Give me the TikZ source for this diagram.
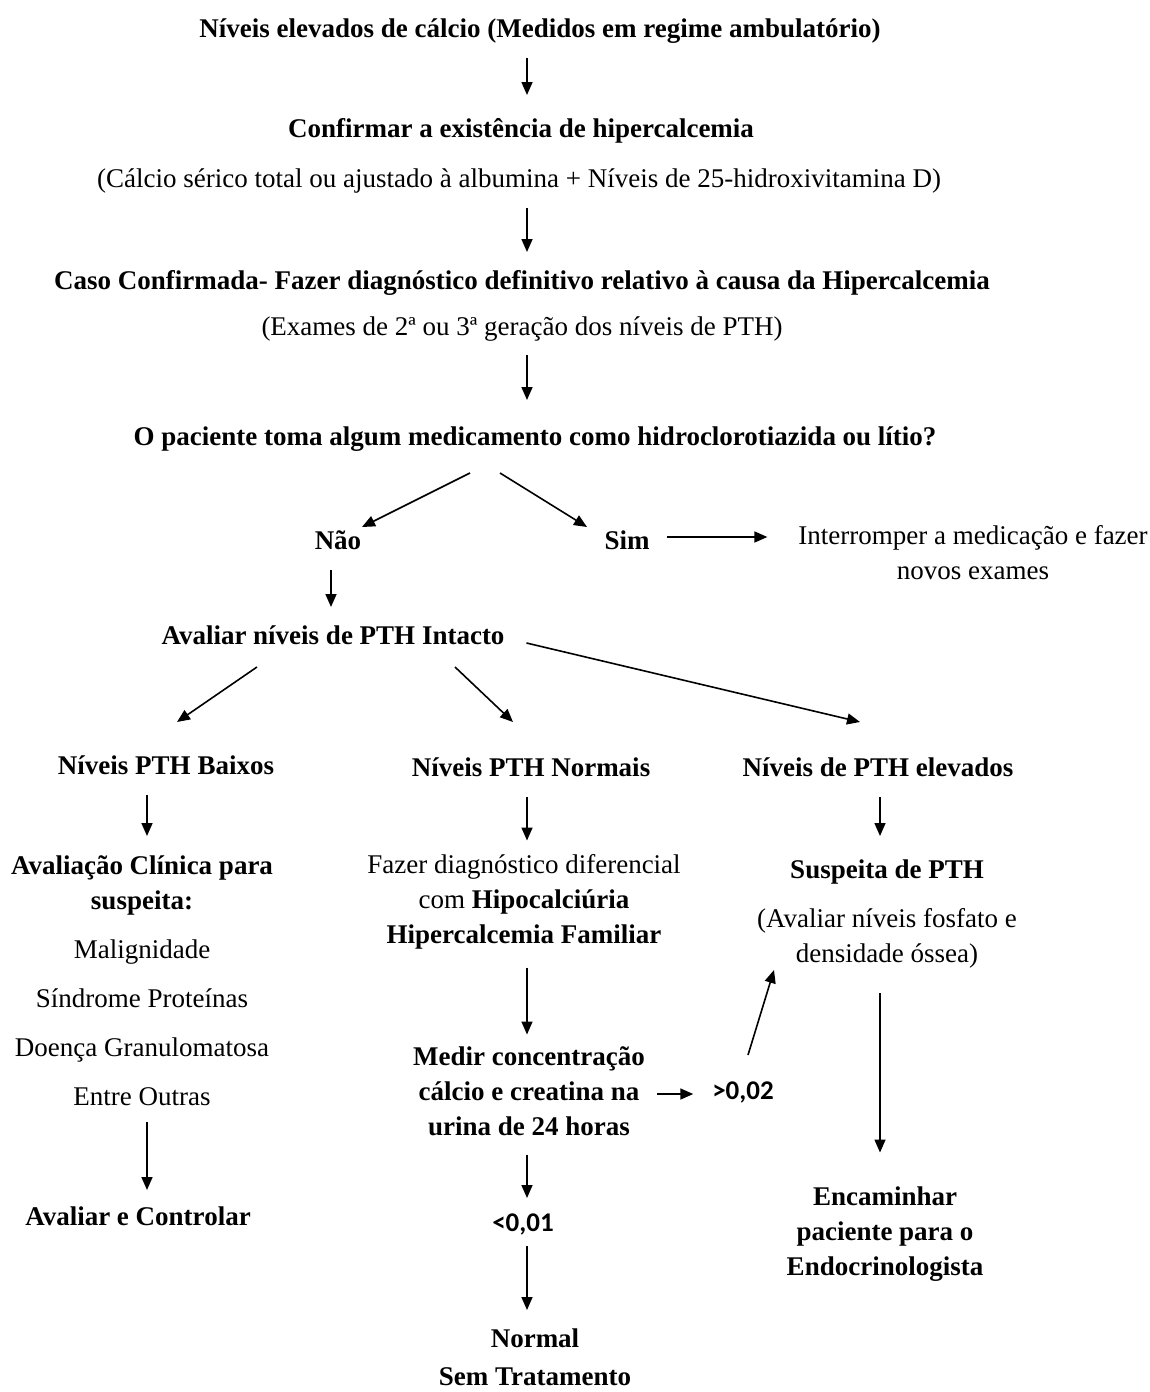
\documentclass[tikz,border=0pt]{standalone}
\usepackage{fontspec}
\setmainfont{Liberation Serif}
\newfontfamily\numfont{Carlito}
\usetikzlibrary{arrows.meta,calc}
\newcommand\st{\rule[-3.5pt]{0pt}{16pt}}
\begin{document}
\begin{tikzpicture}[x=0.5pt,y=-0.5pt,
  every node/.style={inner sep=0pt, outer sep=0pt, align=center, font=\fontsize{13.5}{17.5}\selectfont},
  bx/.style={font=\fontsize{13.5}{17.5}\selectfont\bfseries},
  num/.style={font=\fontsize{13.5}{17.5}\selectfont\numfont\bfseries},
  arr/.style={-{Triangle[length=6.5pt,width=5.5pt]}, line width=0.8pt}]
\useasboundingbox (0,0) rectangle (1150,1392);

\node[bx] (t1) at (540,28) {\st Níveis elevados de cálcio (Medidos em regime ambulatório)};
\node[bx] (c1) at (521,128) {\st Confirmar a existência de hipercalcemia};
\node (c2) at (519,178) {\st (Cálcio sérico total ou ajustado à albumina + Níveis de 25-hidroxivitamina D)};
\node[bx] (d1) at (522,280) {\st Caso Confirmada- Fazer diagnóstico definitivo relativo à causa da Hipercalcemia};
\node (d2) at (522,326) {\st (Exames de 2ª ou 3ª geração dos níveis de PTH)};
\node[bx] (q) at (535,436) {\st O paciente toma algum medicamento como hidroclorotiazida ou lítio?};
\node[bx] (nao) at (338,540) {\st Não};
\node[bx] (sim) at (627,540) {\st Sim};
\node (stop) at (973,552.5) {\st Interromper a medicação e fazer\\\st novos exames};
\node[bx] (pth) at (333,635) {\st Avaliar níveis de PTH Intacto};
\node[bx] (low) at (166,765) {\st Níveis PTH Baixos};
\node[bx] (norm) at (531,767) {\st Níveis PTH Normais};
\node[bx] (high) at (878,767) {\st Níveis de PTH elevados};
\node[bx] (clin) at (142,882.5) {\st Avaliação Clínica para\\\st suspeita:};
\node (m1) at (142,949) {\st Malignidade};
\node (m2) at (142,998) {\st Síndrome Proteínas};
\node (m3) at (142,1047) {\st Doença Granulomatosa};
\node (m4) at (142,1096) {\st Entre Outras};
\node[bx] (ctrl) at (138,1216) {\st Avaliar e Controlar};
\node (diff) at (524,899.5) {\st Fazer diagnóstico diferencial\\\st com \textbf{Hipocalciúria}\\\st \textbf{Hipercalcemia Familiar}};
\node[bx] (urine) at (529,1091.5) {\st Medir concentração\\\st cálcio e creatina na\\\st urina de 24 horas};
\node[num] (gt) at (743,1090) {\st >0,02};
\node[bx] (susp) at (887,869) {\st Suspeita de PTH};
\node (fos) at (887,935.5) {\st (Avaliar níveis fosfato e\\\st densidade óssea)};
\node[bx] (enc) at (885,1231.5) {\st Encaminhar\\\st paciente para o\\\st Endocrinologista};
\node[num] (lt) at (523,1222) {\st <0,01};
\node[bx] (normal) at (535,1338) {\st Normal};
\node[bx] (sem) at (535,1376) {\st Sem Tratamento};

\draw[arr] ($(t1.south)+(-13,14)$) -- ($(c1.north)+(6,-17)$);
\draw[arr] ($(c2.south)+(8,14)$) -- ($(d1.north)+(5,-12)$);
\draw[arr] ($(d2.south)+(5,13)$) -- ($(q.north)+(-8,-20)$);
\draw[arr] ($(q.south)+(-65,21)$) -- ($(nao.north)+(24,3)$);
\draw[arr] ($(q.south)+(-35,21)$) -- ($(sim.north)+(-40,3)$);
\draw[arr] ($(sim.east)+(17.5,-3)$) -- ($(sim.east -| stop.west)+(-31,-3)$);
\draw[arr] ($(nao.south)+(-7,14)$) -- ($(pth.north)+(-2,-12)$);
\draw[arr] ($(pth.south)+(-76,16)$) -- ($(low.north)+(11,-27)$);
\draw[arr] ($(pth.south)+(122,16)$) -- ($(norm.north)+(-18,-29)$);
\draw[arr] ($(pth.east)+(22,8)$) -- ($(high.north)+(-18,-29)$);
\draw[arr] ($(low.south)+(-19,14)$) -- ($(clin.north)+(5,-13)$);
\draw[arr] ($(norm.south)+(-4,14)$) -- ($(diff.north)+(3,-8)$);
\draw[arr] ($(high.south)+(2,14)$) -- ($(susp.north)+(-7,-17)$);
\draw[arr] ($(m4.south)+(5,10)$) -- ($(ctrl.north)+(9,-10)$);
\draw[arr] ($(diff.south)+(3,17)$) -- ($(urine.north)+(-2,-6)$);
\draw[arr] ($(urine.east)+(12,2.5)$) -- ($(urine.east -| gt.west)+(-19,2.5)$);
\draw[arr] ($(gt.north)+(5,-19)$) -- ($(fos.south)+(-113,1)$);
\draw[arr] ($(fos.south)+(-7,24)$) -- ($(enc.north)+(-5,-28)$);
\draw[arr] ($(urine.south)+(-2,12)$) -- ($(lt.north)+(4,-8)$);
\draw[arr] ($(lt.south)+(4,8)$) -- ($(normal.north)+(-8,-12)$);
\end{tikzpicture}
\end{document}
